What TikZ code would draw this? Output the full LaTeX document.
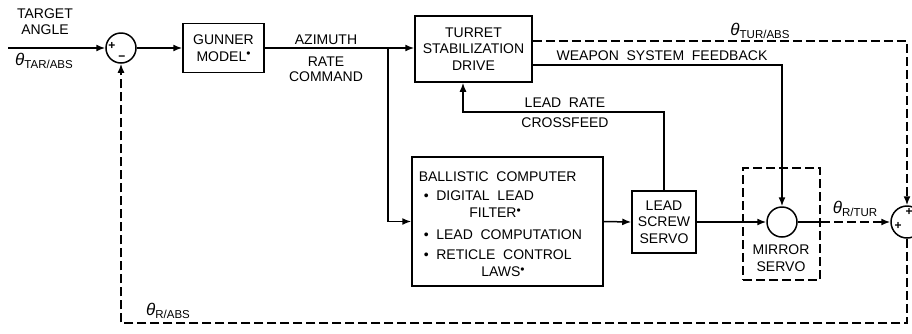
\documentclass[tikz,border=0pt]{standalone}
\usepackage{fontspec}
\setmainfont{Liberation Sans}
\usetikzlibrary{arrows.meta,calc}
\newcommand\thl[1]{{\fontsize{17}{17}\selectfont\textit{θ}}\raisebox{-0.5ex}{\fontsize{11.5}{11.5}\selectfont #1}}
\newcommand\dotsup{\raisebox{0.5ex}{\fontsize{12}{12}\selectfont •}}
\newcommand\wsp{\hspace{0.55em}}
\begin{document}
\begin{tikzpicture}[x=1pt,y=-1pt, line width=1.5pt,
 blk/.style={draw, rectangle, inner sep=0pt, align=center, font=\fontsize{14}{16.5}\selectfont},
 sumj/.style={draw, circle, minimum size=30pt, inner sep=0pt},
 arr/.style={-{Latex[length=9pt,width=7pt]}},
 dsh/.style={dash pattern=on 9pt off 4pt},
 lbl/.style={font=\fontsize{14}{16.5}\selectfont, inner sep=0pt, align=center},
 sgn/.style={font=\fontsize{12}{12}\selectfont\bfseries, inner sep=0pt},
]
\useasboundingbox (0,0) rectangle (912,333);

% blocks
\node[sumj] (sumL) at (121,48) {};
\node[blk, minimum width=81pt, minimum height=49pt] (gun) at (223.5,48) {GUNNER\\MODEL\dotsup};
\node[blk, minimum width=117pt, minimum height=66pt] (tur) at (473.5,49) {TURRET\\STABILIZATION\\DRIVE};
\node[blk, minimum width=191pt, minimum height=129pt] (bal) at (507.5,221.5) {};
\node[blk, minimum width=64pt, minimum height=62pt] (lead) at (664,222) {LEAD\\SCREW\\SERVO};
\node[sumj] (mc) at (782,222) {};
\node[draw, dsh, minimum width=77pt, minimum height=112pt, inner sep=0pt] (mbox) at (781.5,224) {};
\node[sumj, minimum size=32pt] (sumR) at (907,222) {};

% signs
\node[sgn] (sl1) at (112,46) {+};
\node[sgn] (sl2) at (122,58) {\textminus};
\node[sgn] (sr1) at (909,212) {+};
\node[sgn] (sr2) at (898,226) {+};

% ballistic text
\node[lbl, anchor=west] (b1) at (418,177) {BALLISTIC\wsp COMPUTER};
\node[lbl, anchor=west] (b2) at (423,196) {•\wsp DIGITAL\wsp LEAD};
\node[lbl] (b3) at (495,213) {FILTER\dotsup};
\node[lbl, anchor=west] (b4) at (423,235) {•\wsp LEAD\wsp COMPUTATION};
\node[lbl, anchor=west] (b5) at (423,255) {•\wsp RETICLE\wsp CONTROL};
\node[lbl] (b6) at (503,272) {LAWS\dotsup};

% labels
\node[lbl] (t1) at (45,14) {TARGET};
\node[lbl] (t1b) at (45,30) {ANGLE};
\node[lbl] (t2) at (44,61) {\thl{TAR/ABS}};
\node[lbl] (az) at (326,40) {AZIMUTH};
\node[lbl] (az2) at (326,62) {RATE};
\node[lbl] (az3) at (326,77) {COMMAND};
\node[lbl] (lr1) at (565,103) {LEAD\wsp RATE};
\node[lbl] (lr2) at (565,123) {CROSSFEED};
\node[lbl] (wsf) at (662,56) {WEAPON\wsp SYSTEM\wsp FEEDBACK};
\node[lbl] (ttur) at (760,31) {\thl{TUR/ABS}};
\node[lbl] (trt) at (855,209) {\thl{R/TUR}};
\node[lbl] (trabs) at (168,311) {\thl{R/ABS}};
\node[lbl] (ms) at (781,258) {MIRROR\\SERVO};

% coordinates
\coordinate (in) at (8,48);
\coordinate (br) at (388,48);
\coordinate (cf) at (463,112);
\coordinate (wf) at (782,65);
\coordinate (tt) at (907,41);
\coordinate (mo) at (mbox.east |- mc.east);
\coordinate (bot) at (907,323);

% connectors
\draw[arr] (in) -- (sumL.west);
\draw[arr] (sumL.east) -- (gun.west);
\draw[arr] (gun.east) -- (tur.west |- gun.east);
\draw[arr] (br) |- (bal.west);
\draw[arr] (bal.east) -- (lead.west);
\draw[arr] (lead.north) |- (cf) -- (cf |- tur.south);
\draw[arr] (tur.east |- wf) -- (wf) -- (mc.north);
\draw[arr, dsh] (tur.east |- tt) -- (tt) -- (sumR.north);
\draw[arr] (lead.east) -- (mc.west);
\draw (mc.east) -- (mo);
\draw[arr, dsh] (mo) -- (sumR.west);
\draw[arr, dsh] (sumR.south) -- (bot) -| (sumL.south);
\end{tikzpicture}
\end{document}
